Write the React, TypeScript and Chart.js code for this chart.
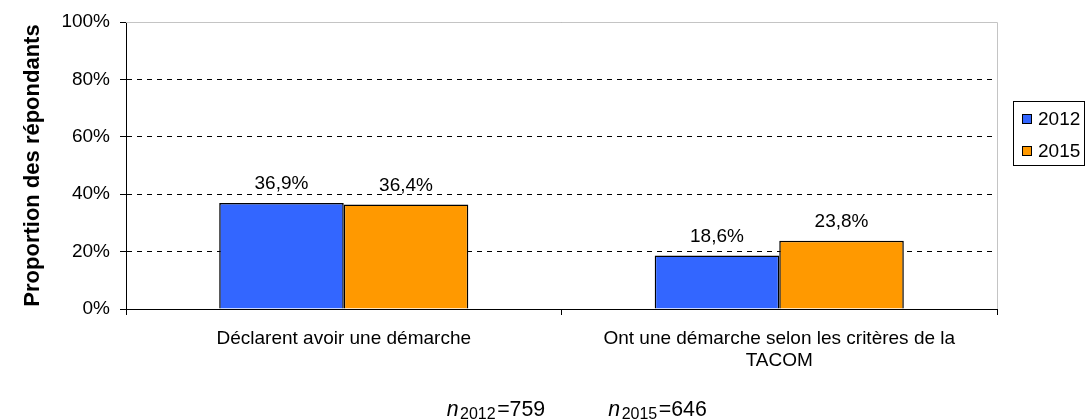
import React, { useEffect, useRef } from 'react';
import { Chart, registerables } from 'chart.js';

Chart.register(...registerables);

// ---- data ----
const categories: (string | string[])[] = [
  'Déclarent avoir une démarche',
  ['Ont une démarche selon les critères de la', 'TACOM'],
];
const seriesLabels = ['2012', '2015'];
const values2012 = [36.9, 18.6];
const values2015 = [36.4, 23.8];
const sampleYears = ['2012', '2015'];
const sampleSizes = [759, 646];
const yMin = 0;
const yMax = 100;
const yStep = 20;
const yAxisTitle = 'Proportion des répondants';

// ---- styles ----
const FONT = '"Liberation Sans", Arial, sans-serif';
const BLUE = '#3366FF';
const ORANGE = '#FF9900';

const fmt = (v: number) => v.toFixed(1).replace('.', ',') + '%';

const extras = {
  id: 'extras',
  beforeDatasetsDraw(chart: any) {
    const { ctx, chartArea } = chart;
    ctx.save();
    ctx.strokeStyle = '#c4c4c4';
    ctx.lineWidth = 1;
    ctx.beginPath();
    ctx.moveTo(chartArea.left, chartArea.top + 0.5);
    ctx.lineTo(chartArea.right + 0.5, chartArea.top + 0.5);
    ctx.lineTo(chartArea.right + 0.5, chartArea.bottom);
    ctx.stroke();
    ctx.restore();
  },
  afterDatasetsDraw(chart: any) {
    const { ctx } = chart;
    ctx.save();
    // data labels
    ctx.fillStyle = '#000';
    ctx.font = `19px ${FONT}`;
    ctx.textAlign = 'center';
    ctx.textBaseline = 'alphabetic';
    chart.data.datasets.forEach((ds: any, i: number) => {
      const meta = chart.getDatasetMeta(i);
      meta.data.forEach((bar: any, j: number) => {
        ctx.fillText(fmt(ds.data[j]), bar.x, bar.y - 14);
      });
    });

    // legend
    const lx = 1013.5, ly = 101.5, lw = 71, lh = 64;
    ctx.strokeStyle = '#000';
    ctx.lineWidth = 1;
    ctx.strokeRect(lx, ly, lw, lh);
    ctx.textAlign = 'left';
    ctx.textBaseline = 'middle';
    ctx.font = `19px ${FONT}`;
    chart.data.datasets.forEach((ds: any, i: number) => {
      const sy = 114 + i * 32;
      ctx.fillStyle = ds.backgroundColor;
      ctx.fillRect(1022, sy, 10, 10);
      ctx.strokeStyle = '#000';
      ctx.strokeRect(1022.5, sy + 0.5, 9, 9);
      ctx.fillStyle = '#000';
      ctx.fillText(ds.label, 1038, sy + 6);
    });

    // sample sizes
    const starts = [446.7, 608.3];
    ctx.textBaseline = 'alphabetic';
    sampleYears.forEach((yr, i) => {
      let x = starts[i];
      const base = 415.5;
      ctx.font = `italic 21.33px ${FONT}`;
      ctx.fillText('n', x, base);
      x += ctx.measureText('n').width + 1.5;
      ctx.font = `16px ${FONT}`;
      ctx.fillText(yr, x, base + 3.5);
      x += ctx.measureText(yr).width + 1.5;
      ctx.font = `21.33px ${FONT}`;
      ctx.fillText('=' + sampleSizes[i], x, base);
    });
    ctx.restore();
  },
};

export default function App() {
  const ref = useRef<HTMLCanvasElement>(null);
  useEffect(() => {
    document.body.style.margin = '0';
    const canvas = ref.current!;
    const chart = new Chart(canvas, {
      type: 'bar',
      data: {
        labels: categories as any,
        datasets: [
          {
            label: seriesLabels[0],
            data: values2012,
            backgroundColor: BLUE,
            borderColor: '#000',
            borderWidth: 1.5,
            categoryPercentage: 0.572,
            barPercentage: 1.0,
          },
          {
            label: seriesLabels[1],
            data: values2015,
            backgroundColor: ORANGE,
            borderColor: '#000',
            borderWidth: 1.5,
            categoryPercentage: 0.572,
            barPercentage: 1.0,
          },
        ],
      },
      options: {
        responsive: false,
        maintainAspectRatio: false,
        devicePixelRatio: 1,
        animation: false,
        layout: { padding: { left: 0, top: 22, right: 89, bottom: 0 } },
        plugins: {
          legend: { display: false },
          tooltip: { enabled: false },
          title: { display: false },
        },
        scales: {
          x: {
            type: 'category',
            grid: {
              offset: true,
              drawOnChartArea: false,
              drawTicks: true,
              tickLength: 6,
              tickColor: '#000',
              color: '#000',
            },
            border: { display: true, color: '#000', width: 1 },
            ticks: {
              color: '#000',
              font: { family: FONT, size: 19 },
              padding: 12,
              maxRotation: 0,
              autoSkip: false,
            },
            afterFit: (scale: any) => {
              scale.height = 111;
            },
          },
          y: {
            min: yMin,
            max: yMax,
            grid: {
              color: (c: any) =>
                c.tick && c.tick.value === yMin
                  ? 'rgba(0,0,0,0)'
                  : c.tick && c.tick.value === yMax
                  ? '#9a9a9a'
                  : '#000',
              lineWidth: 1,
              drawTicks: true,
              tickLength: 6,
              tickColor: '#000',
            },
            border: { display: true, color: '#000', width: 1, dash: [5, 5] },
            ticks: {
              stepSize: yStep,
              color: '#000',
              font: { family: FONT, size: 19 },
              padding: 10,
              callback: (v: any) => v + '%',
            },
            title: {
              display: true,
              text: yAxisTitle,
              color: '#000',
              font: { family: FONT, size: 22, weight: 'bold' },
              padding: { top: 20, bottom: 0 },
            },
            afterFit: (scale: any) => {
              scale.width = 126;
            },
          },
        },
      },
      plugins: [extras],
    } as any);
    return () => chart.destroy();
  }, []);
  return (
    <div style={{ position: 'absolute', left: 0, top: 0, width: 1086, height: 420, background: '#fff' }}>
      <canvas ref={ref} width={1086} height={420} style={{ display: 'block', width: 1086, height: 420 }} />
    </div>
  );
}
